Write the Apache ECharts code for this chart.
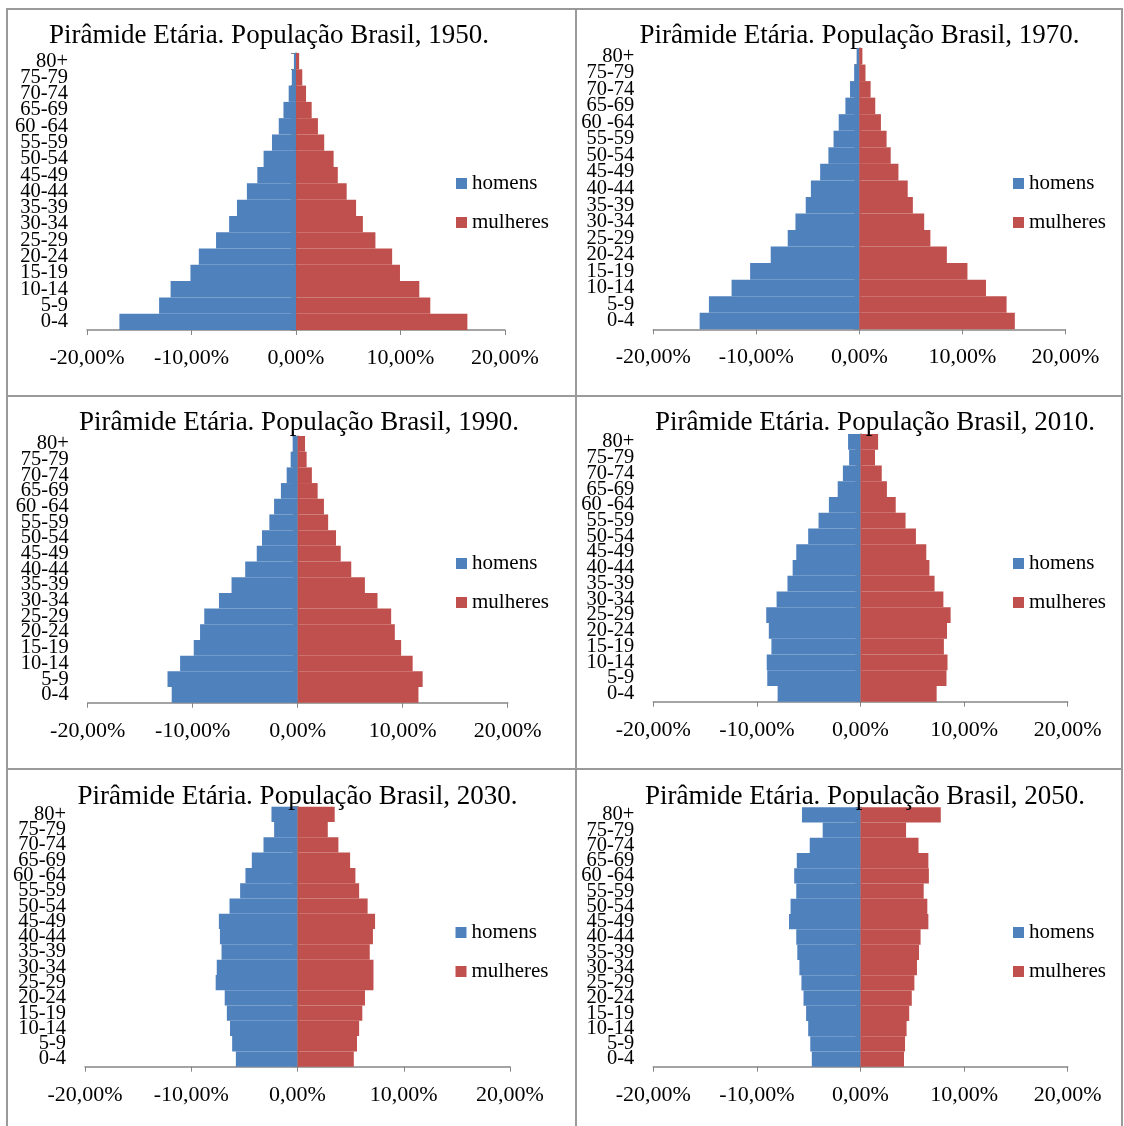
<!DOCTYPE html>
<html>
<head>
<meta charset="utf-8">
<script src="https://cdn.jsdelivr.net/npm/echarts@6/dist/echarts.min.js"></script>
<style>
html,body{margin:0;padding:0;background:#fff;}
#c{width:1124px;height:1126px;}
</style>
</head>
<body>
<div id="c"></div>
<script>
// Age groups (bottom to top)
const categories = ['0-4','5-9','10-14','15-19','20-24','25-29','30-34','35-39','40-44','45-49','50-54','55-59','60 -64','65-69','70-74','75-79','80+'];
const years = ['1950','1970','1990','2010','2030','2050'];
const xTicks = [-20, -10, 0, 10, 20];

// Percent of population per age group (homens negative, mulheres positive)
const homens1950 = [-16.9,-13.1,-12.0,-10.1,-9.3,-7.65,-6.4,-5.65,-4.7,-3.7,-3.1,-2.3,-1.65,-1.2,-0.7,-0.4,-0.2];
const mulheres1950 = [16.4,12.85,11.8,9.95,9.2,7.6,6.4,5.75,4.85,4.0,3.6,2.7,2.1,1.5,0.96,0.6,0.3];
const homens1970 = [-15.5,-14.6,-12.4,-10.6,-8.6,-6.95,-6.2,-5.2,-4.7,-3.8,-3.0,-2.5,-2.0,-1.35,-0.9,-0.5,-0.26];
const mulheres1970 = [15.1,14.3,12.3,10.5,8.5,6.9,6.3,5.2,4.7,3.8,3.05,2.65,2.1,1.55,1.1,0.6,0.3];
const homens1990 = [-12.0,-12.4,-11.2,-9.9,-9.3,-8.9,-7.5,-6.3,-5.0,-3.9,-3.4,-2.7,-2.25,-1.6,-1.05,-0.67,-0.48];
const mulheres1990 = [11.5,11.9,10.95,9.85,9.25,8.9,7.6,6.4,5.1,4.1,3.65,2.9,2.5,1.9,1.35,0.85,0.7];
const homens2010 = [-8.0,-9.0,-9.05,-8.6,-8.85,-9.1,-8.1,-7.05,-6.55,-6.2,-5.05,-4.05,-3.05,-2.2,-1.7,-1.1,-1.2];
const mulheres2010 = [7.35,8.3,8.4,8.05,8.35,8.7,8.0,7.15,6.65,6.35,5.35,4.35,3.4,2.55,2.05,1.4,1.7];
const homens2030 = [-5.8,-6.15,-6.35,-6.65,-6.85,-7.7,-7.6,-7.15,-7.3,-7.4,-6.4,-5.4,-4.9,-4.3,-3.2,-2.2,-2.45];
const mulheres2030 = [5.3,5.6,5.8,6.1,6.35,7.15,7.15,6.8,7.1,7.3,6.6,5.8,5.45,4.95,3.85,2.85,3.5];
const homens2050 = [-4.7,-4.85,-5.05,-5.25,-5.5,-5.7,-5.9,-6.1,-6.2,-6.9,-6.75,-6.2,-6.4,-6.15,-4.9,-3.65,-5.65];
const mulheres2050 = [4.2,4.3,4.45,4.7,4.95,5.2,5.45,5.65,5.8,6.55,6.45,6.1,6.6,6.55,5.6,4.4,7.75];

const homensAll = [homens1950, homens1970, homens1990, homens2010, homens2030, homens2050];
const mulheresAll = [mulheres1950, mulheres1970, mulheres1990, mulheres2010, mulheres2030, mulheres2050];

// Layout (pixels)
const panels = [
  {l:87,   r:505,    t:53,    b:330,    tx:269,   ty:36,  lx:456,  ly:173, xm:17},
  {l:653.3,r:1065.3, t:48,    b:329.3,  tx:859.5, ty:36,  lx:1013, ly:173, xm:17},
  {l:87.7, r:507.7,  t:436,   b:702.7,  tx:299,   ty:423, lx:456,  ly:553, xm:18},
  {l:653.3,r:1067.7, t:434,   b:701.7,  tx:875,   ty:423, lx:1013, ly:553, xm:18},
  {l:85,   r:510,    t:806.7, b:1066.7, tx:297.5, ty:797, lx:455.5,ly:922, xm:18},
  {l:653.3,r:1067.7, t:807.3, b:1066.7, tx:865,   ty:797, lx:1013, ly:922, xm:18}
];

const FONT = "'Liberation Serif','Times New Roman',serif";
const AX = '#868686';
const W = 1124, H = 1126;

const option = {
  animation: false,
  backgroundColor: '#fff',
  title: [], legend: [], grid: [], xAxis: [], yAxis: [], series: [],
  graphic: [
    {type:'rect', shape:{x:7,y:9,width:1115,height:1130}, style:{fill:'none',stroke:'#9a9a9a',lineWidth:2}, silent:true},
    {type:'line', shape:{x1:576,y1:9,x2:576,y2:1130}, style:{stroke:'#9a9a9a',lineWidth:2}, silent:true},
    {type:'line', shape:{x1:7,y1:396,x2:1122,y2:396}, style:{stroke:'#9a9a9a',lineWidth:2}, silent:true},
    {type:'line', shape:{x1:7,y1:769,x2:1122,y2:769}, style:{stroke:'#9a9a9a',lineWidth:2}, silent:true}
  ]
};

panels.forEach((p, i) => {
  option.title.push({
    text: 'Pirâmide Etária. População Brasil, ' + years[i] + '.',
    left: p.tx, top: p.ty - 13.5, textAlign: 'center', padding: 0,
    textStyle: {fontFamily: FONT, fontSize: 27, fontWeight: 'normal', color: '#000'}
  });
  option.legend.push({
    data: ['homens','mulheres'], orient: 'vertical', left: p.lx, top: p.ly, padding: 0,
    icon: 'rect', itemWidth: 11, itemHeight: 11, itemGap: 18,
    textStyle: {fontFamily: FONT, fontSize: 21, color: '#000', lineHeight: 21}
  });
  option.grid.push({left: p.l, width: p.r - p.l, top: p.t, height: p.b - p.t, containLabel: false});
  option.xAxis.push({
    type: 'value', gridIndex: i, min: -20, max: 20, interval: 10,
    axisLine: {show: true, onZero: false, lineStyle: {color: AX, width: 1.5}},
    axisTick: {show: true, length: 5, lineStyle: {color: AX}},
    splitLine: {show: false},
    axisLabel: {margin: p.xm, fontFamily: FONT, fontSize: 22, color: '#000',
      formatter: v => xTicks.includes(v) ? v.toFixed(2).replace('.', ',') + '%' : ''}
  });
  // zero line axis with ticks
  option.yAxis.push({
    type: 'category', gridIndex: i, data: categories,
    axisLine: {show: true, onZero: true, lineStyle: {color: AX, width: 1.5}},
    axisTick: {show: true, length: 5, lineStyle: {color: AX}},
    axisLabel: {show: false}
  });
  // label axis at left
  option.yAxis.push({
    type: 'category', gridIndex: i, data: categories, position: 'left',
    axisLine: {show: false, onZero: false},
    axisTick: {show: false},
    axisLabel: {show: true, interval: 0, margin: 19, fontFamily: FONT, fontSize: 20.5, color: '#000', lineHeight: 16}
  });
  option.series.push({
    name: 'homens', type: 'bar', xAxisIndex: i, yAxisIndex: 2 * i, stack: 's' + i,
    barCategoryGap: '0%', data: homensAll[i],
    itemStyle: {color: '#4F81BD'}
  });
  option.series.push({
    name: 'mulheres', type: 'bar', xAxisIndex: i, yAxisIndex: 2 * i, stack: 's' + i,
    barCategoryGap: '0%', data: mulheresAll[i],
    itemStyle: {color: '#C0504D'}
  });
});

const chart = echarts.init(document.getElementById('c'), null, {renderer: 'canvas', width: W, height: H});
chart.setOption(option);
</script>
</body>
</html>
